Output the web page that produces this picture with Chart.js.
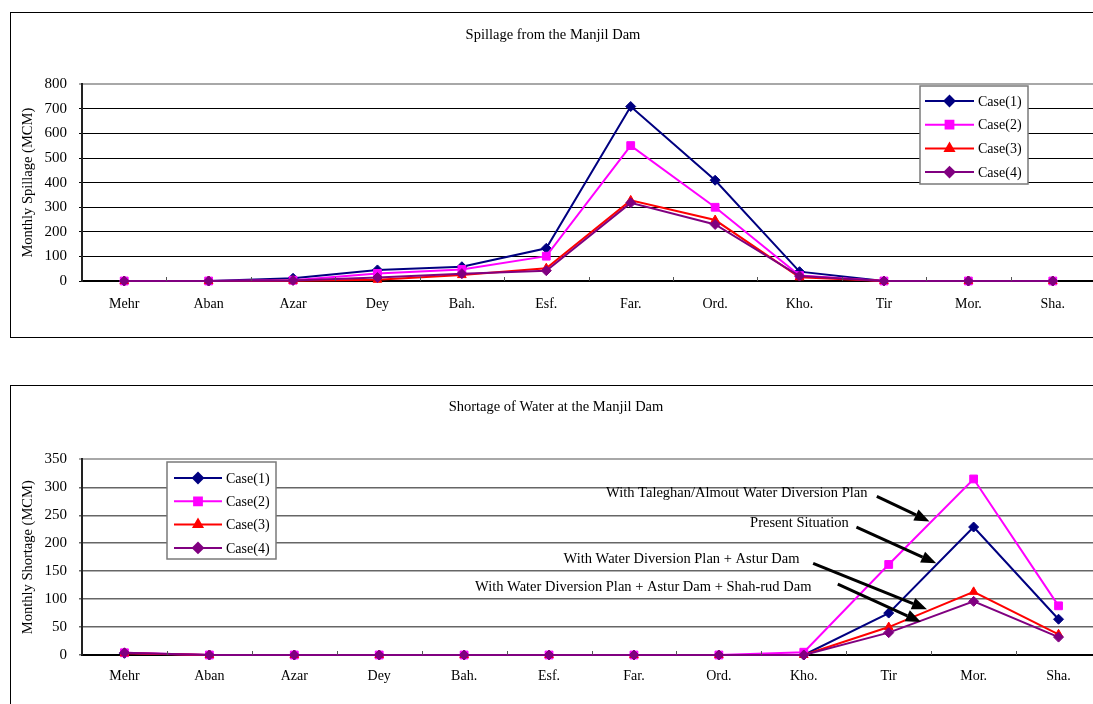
<!DOCTYPE html>
<html>
<head>
<meta charset="utf-8">
<script src="https://cdn.jsdelivr.net/npm/chart.js@4.4.1/dist/chart.umd.min.js"></script>
<style>
  html, body { margin: 0; padding: 0; background: #fff; overflow: hidden; width: 1093px; height: 704px; }
  .box { position: absolute; left: 10px; width: 1100px; border: 1px solid #000; background: #fff; }
  #box1 { top: 12px; height: 324px; }
  #box2 { top: 385px; height: 330px; }
  .box canvas { display: block; }
</style>
</head>
<body>
<div class="box" id="box1"><canvas id="spillChart"></canvas></div>
<div class="box" id="box2"><canvas id="shortChart"></canvas></div>
<script>
// Data
const months = ['Mehr', 'Aban', 'Azar', 'Dey', 'Bah.', 'Esf.', 'Far.', 'Ord.', 'Kho.', 'Tir', 'Mor.', 'Sha.'];
const caseNames = ['Case(1)', 'Case(2)', 'Case(3)', 'Case(4)'];

const spillCase1 = [0, 0, 11, 45, 58, 133, 710, 410, 38, 0, 0, 0];
const spillCase2 = [0, 0, 3, 31, 47, 101, 551, 300, 22, 0, 0, 0];
const spillCase3 = [0, 0, 1, 5, 24, 52, 328, 248, 15, 0, 0, 0];
const spillCase4 = [0, 0, 2, 14, 30, 42, 318, 230, 20, 0, 0, 0];
const spillTicks = [0, 100, 200, 300, 400, 500, 600, 700, 800];

const shortCase1 = [3, 0, 0, 0, 0, 0, 0, 0, 0, 75, 229, 64];
const shortCase2 = [4, 0, 0, 0, 0, 0, 0, 0, 5, 162, 315, 88];
const shortCase3 = [3, 0, 0, 0, 0, 0, 0, 0, 0, 50, 113, 37];
const shortCase4 = [4, 0, 0, 0, 0, 0, 0, 0, 0, 40, 96, 32];
const shortTicks = [0, 50, 100, 150, 200, 250, 300, 350];

// callouts on the shortage chart, in (month index, MCM) units
const shortNotes = [
  { text: 'With Taleghan/Almout Water Diversion Plan', x: 8.75, y: 289 },
  { text: 'Present Situation', x: 8.53, y: 236 },
  { text: 'With Water Diversion Plan + Astur Dam', x: 7.95, y: 171 },
  { text: 'With Water Diversion Plan + Astur Dam + Shah-rud Dam', x: 8.09, y: 121 }
];
const shortArrows = [
  { x0: 8.86, y0: 284, x1: 9.48, y1: 239 },
  { x0: 8.62, y0: 229, x1: 9.56, y1: 164 },
  { x0: 8.11, y0: 164, x1: 9.45, y1: 82 },
  { x0: 8.40, y0: 127, x1: 9.38, y1: 59 }
];

const caseColors = ['#000080', '#ff00ff', '#ff0000', '#800080'];
const casePoints = ['rectRot', 'rect', 'triangle', 'rectRot'];
const caseRadius = [5, 5.5, 5, 5];

const serif = '"Liberation Serif", "Times New Roman", serif';
Chart.defaults.font.family = serif;
Chart.defaults.font.size = 14;
Chart.defaults.color = '#000';

const makeDatasets = (series) => series.map((data, i) => ({
  label: caseNames[i],
  data,
  borderColor: caseColors[i],
  backgroundColor: caseColors[i],
  pointStyle: casePoints[i],
  pointRadius: caseRadius[i],
  pointBorderWidth: 1,
  borderWidth: 2,
  tension: 0,
  clip: false,
  order: 3 - i
}));

const drawMarker = (ctx, style, radius, x, y) => {
  if (Chart.helpers && Chart.helpers.drawPoint) {
    Chart.helpers.drawPoint(ctx, { pointStyle: style, radius, rotation: 0, borderWidth: 1 }, x, y);
    return;
  }
  ctx.beginPath();
  ctx.arc(x, y, radius, 0, Math.PI * 2);
  ctx.fill();
};

// boxed legend sitting inside the plot
const legendBox = {
  id: 'legendBox',
  afterDraw(chart, args, o) {
    const ctx = chart.ctx;
    ctx.save();
    ctx.fillStyle = '#fff';
    ctx.fillRect(o.x, o.y, o.w, o.h);
    ctx.strokeStyle = '#7a7a7a';
    ctx.lineWidth = 1.5;
    ctx.strokeRect(o.x, o.y, o.w, o.h);
    chart.data.datasets.forEach((ds, i) => {
      const cy = o.y + o.first + i * o.step;
      ctx.strokeStyle = ds.borderColor;
      ctx.fillStyle = ds.borderColor;
      ctx.lineWidth = 2;
      ctx.beginPath();
      ctx.moveTo(o.x + o.lineFrom, cy);
      ctx.lineTo(o.x + o.lineTo, cy);
      ctx.stroke();
      drawMarker(ctx, ds.pointStyle, ds.pointRadius, o.x + (o.lineFrom + o.lineTo) / 2, cy);
      ctx.fillStyle = '#000';
      ctx.font = '14px ' + serif;
      ctx.textAlign = 'left';
      ctx.textBaseline = 'middle';
      ctx.fillText(ds.label, o.x + o.textX, cy + 1);
    });
    ctx.restore();
  }
};

// short tick marks between months, pointing up into the plot
const innerTicks = {
  id: 'innerTicks',
  afterDatasetsDraw(chart, args, o) {
    const xs = chart.scales.x;
    const bottom = chart.chartArea.bottom;
    const ctx = chart.ctx;
    ctx.save();
    ctx.strokeStyle = o.color || '#555';
    ctx.lineWidth = 1;
    for (let i = 1; i < months.length; i++) {
      const x = Math.round(xs.getPixelForValue(i - 0.5)) + 0.5;
      ctx.beginPath();
      ctx.moveTo(x, bottom);
      ctx.lineTo(x, bottom - (o.length || 4));
      ctx.stroke();
    }
    ctx.restore();
  }
};

// text labels and arrows for the shortage chart
const callouts = {
  id: 'callouts',
  afterDraw(chart, args, o) {
    if (!o.notes) return;
    const { x: xs, y: ys } = chart.scales;
    const ctx = chart.ctx;
    ctx.save();
    ctx.fillStyle = '#000';
    ctx.font = '14.5px ' + serif;
    ctx.textAlign = 'right';
    ctx.textBaseline = 'middle';
    o.notes.forEach(n => ctx.fillText(n.text, xs.getPixelForValue(n.x), ys.getPixelForValue(n.y)));
    ctx.strokeStyle = '#000';
    ctx.lineWidth = 3;
    o.arrows.forEach(a => {
      const x0 = xs.getPixelForValue(a.x0), y0 = ys.getPixelForValue(a.y0);
      const x1 = xs.getPixelForValue(a.x1), y1 = ys.getPixelForValue(a.y1);
      const ang = Math.atan2(y1 - y0, x1 - x0);
      const head = 15, half = 6;
      const bx = x1 - head * Math.cos(ang), by = y1 - head * Math.sin(ang);
      ctx.beginPath();
      ctx.moveTo(x0, y0);
      ctx.lineTo(bx, by);
      ctx.stroke();
      ctx.beginPath();
      ctx.moveTo(x1, y1);
      ctx.lineTo(bx + half * Math.sin(ang), by - half * Math.cos(ang));
      ctx.lineTo(bx - half * Math.sin(ang), by + half * Math.cos(ang));
      ctx.closePath();
      ctx.fill();
    });
    ctx.restore();
  }
};

const buildChart = (canvasId, cfg) => {
  const maxTick = cfg.ticks[cfg.ticks.length - 1];
  return new Chart(document.getElementById(canvasId), {
    type: 'line',
    data: { labels: months, datasets: makeDatasets(cfg.series) },
    plugins: [legendBox, innerTicks, callouts],
    options: {
      responsive: true,
      maintainAspectRatio: false,
      animation: false,
      layout: { padding: { left: 0, right: cfg.padRight, top: 0, bottom: 0 } },
      plugins: {
        legend: { display: false },
        tooltip: { enabled: false },
        title: {
          display: true,
          text: cfg.title,
          color: '#000',
          font: { size: 14.5, weight: 'normal', family: serif },
          padding: { top: cfg.titleTop, bottom: cfg.titleBottom }
        },
        legendBox: cfg.legend,
        innerTicks: { length: 4, color: '#555' },
        callouts: cfg.callouts || {}
      },
      scales: {
        x: {
          offset: true,
          grid: { drawOnChartArea: false, drawTicks: false },
          border: { color: '#000', width: 2 },
          ticks: { padding: cfg.xPad, font: { size: 14 }, maxRotation: 0, autoSkip: false },
          afterFit: (s) => { s.height = cfg.xHeight; }
        },
        y: {
          min: 0,
          max: maxTick,
          afterBuildTicks: (s) => { s.ticks = cfg.ticks.map(v => ({ value: v })); },
          grid: {
            color: (c) => (c.tick && c.tick.value === maxTick ? '#a8a8a8' : cfg.gridColor),
            lineWidth: (c) => (c.tick && c.tick.value === maxTick ? 2 : cfg.gridWidth),
            drawTicks: true,
            tickLength: 3
          },
          border: { color: '#222', width: 2 },
          ticks: { padding: 12, font: { size: 15 } },
          title: {
            display: true,
            text: cfg.yTitle,
            font: { size: 14.5 },
            padding: { top: 8, bottom: 0 }
          },
          afterFit: (s) => { s.width = 71; }
        }
      }
    }
  });
};

buildChart('spillChart', {
  series: [spillCase1, spillCase2, spillCase3, spillCase4],
  ticks: spillTicks,
  title: 'Spillage from the Manjil Dam',
  yTitle: 'Monthly Spillage (MCM)',
  titleTop: 13, titleBottom: 41,
  xHeight: 56, xPad: 15, padRight: 16,
  gridColor: '#000', gridWidth: 1,
  legend: { x: 909, y: 73, w: 108, h: 98, first: 15, step: 23.7, lineFrom: 5, lineTo: 54, textX: 58 }
});

buildChart('shortChart', {
  series: [shortCase1, shortCase2, shortCase3, shortCase4],
  ticks: shortTicks,
  title: 'Shortage of Water at the Manjil Dam',
  yTitle: 'Monthly Shortage (MCM)',
  titleTop: 12, titleBottom: 44,
  xHeight: 61, xPad: 13, padRight: 10,
  gridColor: '#666', gridWidth: 1.5,
  legend: { x: 156, y: 76, w: 109, h: 97, first: 16, step: 23.3, lineFrom: 7, lineTo: 55, textX: 59 },
  callouts: { notes: shortNotes, arrows: shortArrows }
});
</script>
</body>
</html>
